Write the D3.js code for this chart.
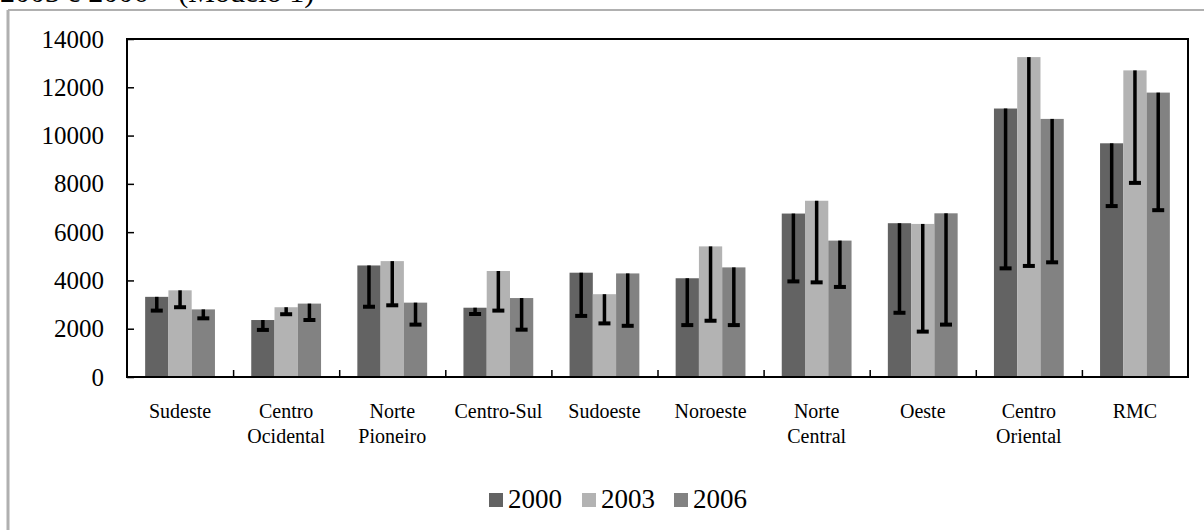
<!DOCTYPE html>
<html>
<head>
<meta charset="utf-8">
<script src="https://cdn.jsdelivr.net/npm/d3@7"></script>
<style>
  html, body { margin: 0; padding: 0; background: #fff; }
  svg { display: block; }
  svg text { font-family: "Liberation Serif", "Times New Roman", "DejaVu Serif", serif !important; fill: #000; }
</style>
</head>
<body>
<svg id="chart" width="1204" height="530"></svg>
<script>
// Regions and yearly series (value and lower bound of the interval)
const categories = ["Sudeste", "Centro Ocidental", "Norte Pioneiro", "Centro-Sul", "Sudoeste",
                    "Noroeste", "Norte Central", "Oeste", "Centro Oriental", "RMC"];
const categoryLines = [["Sudeste"], ["Centro", "Ocidental"], ["Norte", "Pioneiro"], ["Centro-Sul"], ["Sudoeste"],
                       ["Noroeste"], ["Norte", "Central"], ["Oeste"], ["Centro", "Oriental"], ["RMC"]];
const years = ["2000", "2003", "2006"];
const values2000 = [3320, 2360, 4620, 2870, 4320, 4090, 6770, 6370, 11120, 9680];
const values2003 = [3590, 2890, 4800, 4390, 3430, 5410, 7300, 6340, 13250, 12700];
const values2006 = [2800, 3040, 3080, 3270, 4290, 4540, 5650, 6780, 10690, 11780];
const lower2000 = [2750, 1950, 2910, 2610, 2530, 2150, 3960, 2660, 4500, 7080];
const lower2003 = [2890, 2600, 2970, 2750, 2220, 2330, 3920, 1880, 4600, 8040];
const lower2006 = [2430, 2360, 2170, 1960, 2120, 2150, 3730, 2170, 4750, 6910];
const yTicks = [0, 2000, 4000, 6000, 8000, 10000, 12000, 14000];
const colors = ["#636363", "#b3b3b3", "#828282"];

const seriesValues = [values2000, values2003, values2006];
const seriesLower = [lower2000, lower2003, lower2006];
const serif = "'Liberation Serif', 'Times New Roman', 'DejaVu Serif', serif";

const svg = d3.select("#chart").attr("font-family", serif);
const plot = { left: 127, right: 1188, top: 39, bottom: 377 };

// Outer frame (only the top and left edges fall inside the page)
svg.append("line").attr("x1", 8).attr("x2", 1204).attr("y1", 10).attr("y2", 10)
  .attr("stroke", "#b0b0b0").attr("stroke-width", 2);
svg.append("line").attr("x1", 8).attr("x2", 8).attr("y1", 10).attr("y2", 530)
  .attr("stroke", "#b0b0b0").attr("stroke-width", 3);

// Caption line running off the top
svg.append("text").attr("x", 0).attr("y", 2)
  .attr("font-family", serif)
  .style("font-size", "30px")
  .text("2003 e 2006 – (Modelo 1)");

const x0 = d3.scaleBand().domain(categories).range([plot.left, plot.right]).padding(0);
const x1 = d3.scaleBand().domain(years).range([0, x0.bandwidth()]).paddingInner(0).paddingOuter(0.78);
const y = d3.scaleLinear().domain([0, 14000]).range([plot.bottom, plot.top]);

const rows = categories.map((c, i) => ({
  cat: c,
  items: years.map((yr, k) => ({ yr, k, v: seriesValues[k][i], lo: seriesLower[k][i] }))
}));

// Bars
const groups = svg.append("g").selectAll("g").data(rows).join("g")
  .attr("transform", d => `translate(${x0(d.cat)},0)`);

groups.selectAll("rect").data(d => d.items).join("rect")
  .attr("x", d => x1(d.yr))
  .attr("width", x1.bandwidth())
  .attr("y", d => y(d.v))
  .attr("height", d => y(0) - y(d.v))
  .attr("fill", d => colors[d.k]);

// Downward error bars with a cap at the lower bound
groups.selectAll("line.err").data(d => d.items).join("line")
  .attr("class", "err")
  .attr("x1", d => x1(d.yr) + x1.bandwidth() / 2)
  .attr("x2", d => x1(d.yr) + x1.bandwidth() / 2)
  .attr("y1", d => y(d.v))
  .attr("y2", d => y(d.lo))
  .attr("stroke", "#000").attr("stroke-width", 3.5);

groups.selectAll("line.cap").data(d => d.items).join("line")
  .attr("class", "cap")
  .attr("x1", d => x1(d.yr) + x1.bandwidth() / 2 - 6)
  .attr("x2", d => x1(d.yr) + x1.bandwidth() / 2 + 6)
  .attr("y1", d => y(d.lo))
  .attr("y2", d => y(d.lo))
  .attr("stroke", "#000").attr("stroke-width", 4);

// Plot box
svg.append("path")
  .attr("d", `M${plot.left},${plot.bottom}V${plot.top}H${plot.right}V${plot.bottom}Z`)
  .attr("fill", "none").attr("stroke", "#000").attr("stroke-width", 2);

// Y axis: inward ticks, labels on the left
const yAxis = d3.axisLeft(y).tickValues(yTicks).tickSize(-7).tickPadding(23).tickFormat(d3.format("d"));
const gy = svg.append("g").attr("transform", `translate(${plot.left},0)`).call(yAxis)
  .attr("font-family", serif).attr("font-size", 25);
gy.select(".domain").remove();
gy.selectAll(".tick line").attr("stroke", "#000").attr("stroke-width", 1.5);
gy.selectAll(".tick text").attr("fill", "#000");

// X axis: separators between categories pointing up
const sepScale = d3.scaleLinear().domain([0, categories.length]).range([plot.left, plot.right]);
const gx = svg.append("g").attr("transform", `translate(0,${plot.bottom})`)
  .call(d3.axisBottom(sepScale).tickValues(d3.range(1, categories.length)).tickSize(-7).tickFormat(""));
gx.select(".domain").remove();
gx.selectAll(".tick line").attr("stroke", "#000").attr("stroke-width", 1.5);

// Category labels (one or two lines)
const labels = svg.append("g").attr("font-family", serif).selectAll("text").data(categories).join("text")
  .attr("text-anchor", "middle")
  .attr("x", d => x0(d) + x0.bandwidth() / 2)
  .attr("y", 418)
  .style("font-size", "20px");
labels.selectAll("tspan").data((d, i) => categoryLines[i]).join("tspan")
  .attr("x", function () { return d3.select(this.parentNode).attr("x"); })
  .attr("dy", (d, j) => j === 0 ? 0 : 25)
  .text(d => d);

// Legend
const legendX = [489, 582, 674];
const legend = svg.append("g").attr("font-family", serif).selectAll("g").data(years).join("g")
  .attr("transform", (d, i) => `translate(${legendX[i]},493)`);
legend.append("rect").attr("width", 14).attr("height", 14).attr("fill", (d, i) => colors[i]);
legend.append("text").attr("x", 19).attr("y", 15).style("font-size", "27px").text(d => d);
</script>
</body>
</html>
